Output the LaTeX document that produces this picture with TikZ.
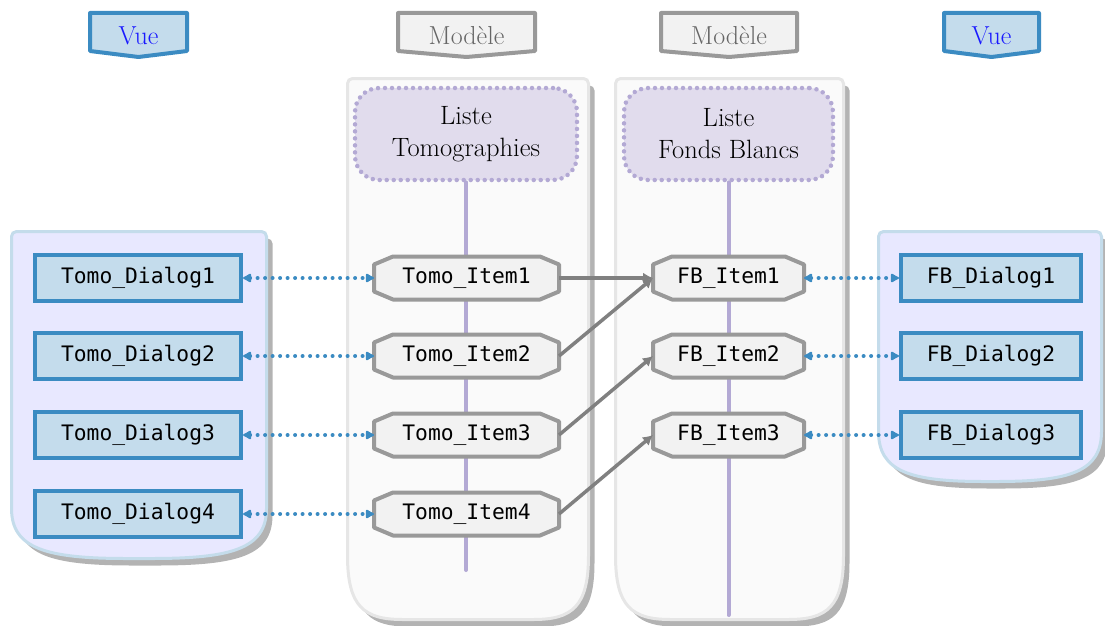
\documentclass[tikz,border=0pt]{standalone}
\usepackage{fontspec}
\newfontfamily\monof{DejaVu Sans Mono}
\usetikzlibrary{arrows.meta,calc}
\pgfdeclarelayer{back}
\pgfdeclarelayer{mid}
\pgfsetlayers{back,mid,main}
\definecolor{dlgfill}{HTML}{C4DCEC}
\definecolor{dlgline}{HTML}{3B8BC2}
\definecolor{itfill}{HTML}{F2F2F2}
\definecolor{itline}{HTML}{999999}
\definecolor{lsfill}{HTML}{E1DCED}
\definecolor{lsline}{HTML}{B3A9D4}
\definecolor{vcfill}{HTML}{E8E8FF}
\definecolor{vcline}{HTML}{C4DCEB}
\definecolor{mcfill}{HTML}{FAFAFA}
\definecolor{mcline}{HTML}{E6E6E6}
\definecolor{shad}{HTML}{B3B3B3}
\definecolor{arrgray}{HTML}{808080}
\definecolor{vuetext}{HTML}{1A1AFF}
\definecolor{modtext}{HTML}{666666}
\tikzset{
  dialog/.style={draw=dlgline, fill=dlgfill, line width=4pt, minimum height=46pt, inner sep=0pt, font=\monof\fontsize{21.3}{25}\selectfont},
  itemnode/.style={minimum height=43pt, inner sep=0pt, outer sep=0pt, font=\monof\fontsize{21.3}{25}\selectfont},
  itemshape/.style={draw=itline, fill=itfill, line width=4pt, line join=round},
  liste/.style={draw=lsline, fill=lsfill, line width=4.5pt, dash pattern=on 0pt off 7pt, line cap=round, rounded corners=24pt, minimum height=92pt, align=center, font=\fontsize{26.5}{32}\selectfont},
  vline/.style={draw=lsline, line width=4pt, line cap=round},
  vuetag/.style={draw=dlgline, fill=dlgfill, line width=4pt, line join=round},
  modtag/.style={draw=itline, fill=itfill, line width=4pt, line join=round},
  tagtext/.style={font=\fontsize{26}{30}\selectfont, inner sep=0pt},
  vuecont/.style={draw=vcline, fill=vcfill, line width=3pt},
  modcont/.style={draw=mcline, fill=mcfill, line width=3pt},
  shadowc/.style={fill=shad},
  blink/.style={draw=dlgline, line width=4pt, dash pattern=on 0pt off 7.5pt, line cap=round,
    {Latex[round,length=10pt,width=11pt]}-{Latex[round,length=10pt,width=11pt]}},
  glink/.style={draw=arrgray, line width=3.5pt, -{Latex[length=10pt,width=11pt]}},
}
% container: x1 y1 x2 y2 vcurve hcurve style
\newcommand\contpath[7]{%
  \path[shadowc, shift={(6,7)}] ({#1},{#4-#5}) [rounded corners=5pt] -- (#1,#2) -- (#3,#2) [sharp corners] -- ({#3},{#4-#5}) .. controls ({#3},{#4-0.2*#5}) and ({#3-0.3*#6},{#4}) .. ({#3-#6},{#4}) -- ({#1+#6},{#4}) .. controls ({#1+0.3*#6},{#4}) and ({#1},{#4-0.2*#5}) .. cycle;
  \path[#7] ({#1},{#4-#5}) [rounded corners=5pt] -- (#1,#2) -- (#3,#2) [sharp corners] -- ({#3},{#4-#5}) .. controls ({#3},{#4-0.2*#5}) and ({#3-0.3*#6},{#4}) .. ({#3-#6},{#4}) -- ({#1+#6},{#4}) .. controls ({#1+0.3*#6},{#4}) and ({#1},{#4-0.2*#5}) .. cycle;
}
% chamfered outline around a named node
\newcommand\chamf[1]{%
  \path[itemshape] ([xshift=19pt]#1.north west) -- ([xshift=-19pt]#1.north east) -- ([yshift=-8pt]#1.north east) -- ([yshift=8pt]#1.south east) -- ([xshift=-19pt]#1.south east) -- ([xshift=19pt]#1.south west) -- ([yshift=8pt]#1.south west) -- ([yshift=-8pt]#1.north west) -- cycle;
}
% tag: x1 x2 style
\newcommand\tagpath[3]{%
  \path[#3] (#1,13) -- (#2,13) -- (#2,51) -- ({(#1+#2)/2},57) -- (#1,51) -- cycle;
}
\begin{document}
\begin{tikzpicture}[x=1pt,y=-1pt]
\useasboundingbox (0,0) rectangle (1105,626);

% tags
\tagpath{90}{187}{vuetag}
\node[tagtext, text=vuetext] (vueL) at (138.5,36) {Vue};
\tagpath{398}{535}{modtag}
\node[tagtext, text=modtext] (modL) at (466.5,36) {Modèle};
\tagpath{661}{797}{modtag}
\node[tagtext, text=modtext] (modR) at (729,36) {Modèle};
\tagpath{944}{1039}{vuetag}
\node[tagtext, text=vuetext] (vueR) at (991.5,36) {Vue};

% containers
\begin{pgfonlayer}{back}
\contpath{11.5}{231.5}{266.5}{558.5}{50}{115}{vuecont}
\contpath{878.5}{231.5}{1101.5}{481.5}{50}{105}{vuecont}
\contpath{347.5}{78.5}{588.5}{619.5}{64}{55}{modcont}
\contpath{615.5}{78.5}{843.5}{619.5}{64}{55}{modcont}
\end{pgfonlayer}

% lists
\node[liste, minimum width=222pt] (LT) at (466,134) {Liste\\Tomographies};
\node[liste, minimum width=209pt] (LF) at (728.5,134) {Liste\\Fonds Blancs};
\coordinate (LTend) at (466,570);
\coordinate (LFend) at (728.5,615);
\begin{pgfonlayer}{back}
\draw[vline] (LT.south) -- (LTend);
\draw[vline] (LF.south) -- (LFend);
\end{pgfonlayer}

% items
\node[itemnode, minimum width=185pt] (TI1) at (466.5,278) {Tomo\_Item1};
\node[itemnode, minimum width=185pt] (TI2) at (466.5,356) {Tomo\_Item2};
\node[itemnode, minimum width=185pt] (TI3) at (466.5,435) {Tomo\_Item3};
\node[itemnode, minimum width=185pt] (TI4) at (466.5,514) {Tomo\_Item4};
\node[itemnode, minimum width=151pt] (FI1) at (728.5,278) {FB\_Item1};
\node[itemnode, minimum width=151pt] (FI2) at (728.5,356) {FB\_Item2};
\node[itemnode, minimum width=151pt] (FI3) at (728.5,435) {FB\_Item3};
\begin{pgfonlayer}{mid}
\chamf{TI1}\chamf{TI2}\chamf{TI3}\chamf{TI4}
\chamf{FI1}\chamf{FI2}\chamf{FI3}
\end{pgfonlayer}

% dialogs
\node[dialog, minimum width=206pt] (TD1) at (138,278) {Tomo\_Dialog1};
\node[dialog, minimum width=206pt] (TD2) at (138,356) {Tomo\_Dialog2};
\node[dialog, minimum width=206pt] (TD3) at (138,435) {Tomo\_Dialog3};
\node[dialog, minimum width=206pt] (TD4) at (138,514) {Tomo\_Dialog4};
\node[dialog, minimum width=180pt] (FD1) at (991,278) {FB\_Dialog1};
\node[dialog, minimum width=180pt] (FD2) at (991,356) {FB\_Dialog2};
\node[dialog, minimum width=180pt] (FD3) at (991,435) {FB\_Dialog3};

% blue links
\draw[blink] (TD1.east) -- (TI1.west);
\draw[blink] (TD2.east) -- (TI2.west);
\draw[blink] (TD3.east) -- (TI3.west);
\draw[blink] (TD4.east) -- (TI4.west);
\draw[blink] (FI1.east) -- (FD1.west);
\draw[blink] (FI2.east) -- (FD2.west);
\draw[blink] (FI3.east) -- (FD3.west);

% gray links
\draw[glink] (TI1.east) -- (FI1.west);
\draw[glink] (TI2.east) -- (FI1.west);
\draw[glink] (TI3.east) -- (FI2.west);
\draw[glink] (TI4.east) -- (FI3.west);
\end{tikzpicture}
\end{document}
